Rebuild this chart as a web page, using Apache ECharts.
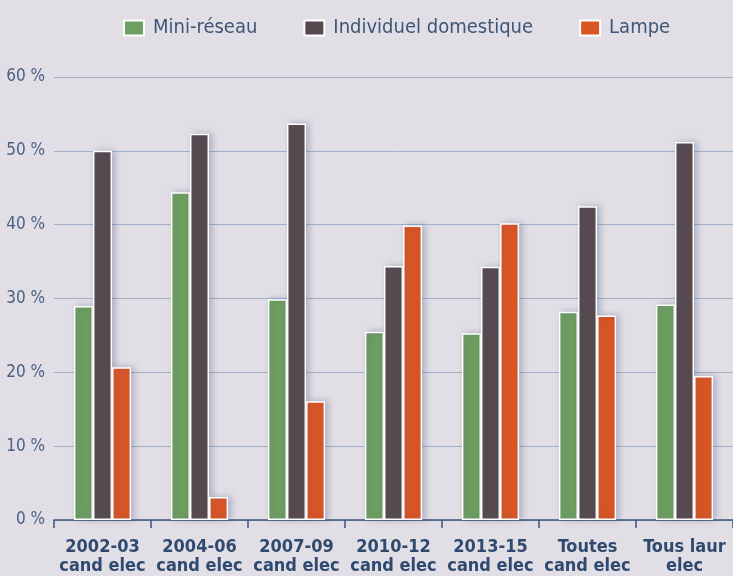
<!DOCTYPE html>
<html><head><meta charset="utf-8">
<script src="https://cdn.jsdelivr.net/npm/echarts@6/dist/echarts.min.js"></script>
<style>html,body{margin:0;padding:0;background:#e2dee6;}#c{width:733px;height:576px;}</style>
</head><body><div id="c"></div>
<script>
const categories = ['2002-03\ncand elec','2004-06\ncand elec','2007-09\ncand elec','2010-12\ncand elec','2013-15\ncand elec','Toutes\ncand elec','Tous laur\nelec'];
const miniReseau = [29.0, 44.4, 29.9, 25.5, 25.3, 28.2, 29.2];
const individuel = [50.0, 52.3, 53.7, 34.4, 34.3, 42.5, 51.2];
const lampe = [20.7, 3.1, 16.1, 39.9, 40.2, 27.7, 19.5];
const yTicks = [0, 10, 20, 30, 40, 50, 60];

const FONT = '"Liberation Sans Narrow","DejaVu Sans Condensed","Roboto",sans-serif';
const chart = echarts.init(document.getElementById('c'));
function barSeries(name, data, color) {
  return {
    name, type: 'bar', data, barGap: '0%', barCategoryGap: '41%',
    itemStyle: { color, borderColor: '#ffffff', borderWidth: 1.5,
      shadowColor: 'rgba(70,90,130,0.35)', shadowBlur: 6, shadowOffsetX: 3 }
  };
}
chart.setOption({
  backgroundColor: '#e2dee6',
  animation: false,
  textStyle: { fontFamily: FONT },
  legend: {
    top: 13, left: 118, itemWidth: 20, itemHeight: 15, itemGap: 46, icon: 'rect',
    textStyle: { fontFamily: FONT, fontSize: 20, color: '#3d5677', padding: [0,0,0,4] },
    data: ['Mini-réseau', 'Individuel domestique', 'Lampe']
  },
  grid: { left: 54, right: -2, top: 77, bottom: 56, containLabel: false },
  xAxis: {
    type: 'category', data: categories,
    axisLine: { lineStyle: { color: '#3d5677', width: 1.5 } },
    axisTick: { show: true, length: 8, lineStyle: { color: '#3d5677', width: 1.5 } },
    axisLabel: { fontFamily: FONT, fontSize: 18, fontWeight: 'bold', color: '#2f4a6e', lineHeight: 19, margin: 18, interval: 0 }
  },
  yAxis: {
    type: 'value', min: yTicks[0], max: yTicks[yTicks.length-1], interval: 10,
    axisLine: { show: false }, axisTick: { show: false },
    axisLabel: { fontFamily: FONT, fontSize: 17, color: '#4a6283', margin: 9, formatter: '{value} %' },
    splitLine: { lineStyle: { color: '#9fb0c8', width: 1 } }
  },
  series: [
    barSeries('Mini-réseau', miniReseau, '#6e9e60'),
    barSeries('Individuel domestique', individuel, '#574a4f'),
    barSeries('Lampe', lampe, '#d95524')
  ]
});
</script></body></html>
